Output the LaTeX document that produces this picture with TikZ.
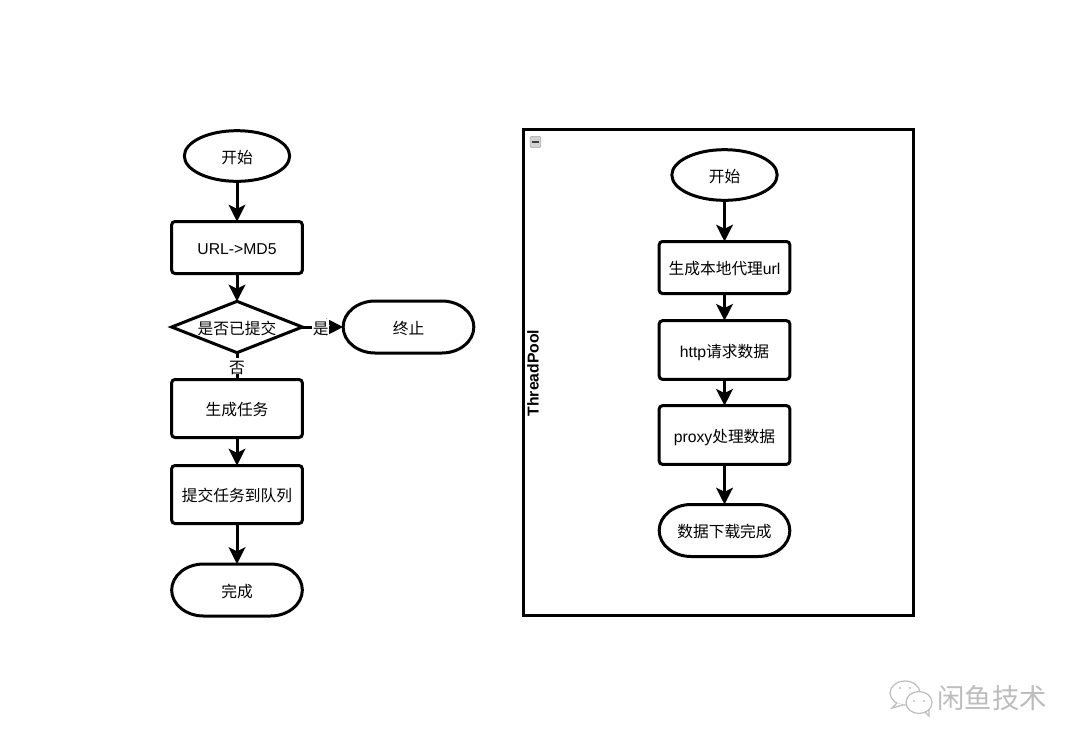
\documentclass[tikz,border=0pt]{standalone}
\usepackage{fontspec}
\setmainfont{Liberation Sans}
\newfontfamily\cjk{Noto Sans CJK SC}
\usetikzlibrary{arrows.meta,shapes.geometric}
\definecolor{wm}{gray}{0.74}
\tikzset{
  every node/.style={font=\fontsize{11.8}{13}\selectfont,inner sep=0pt,outer sep=0pt},
  labeltext/.style={text height=11.2pt,text depth=0pt},
  shapeline/.style={draw=black,line width=2.25pt,fill=white,labeltext},
  startnode/.style={shapeline,ellipse,minimum width=79pt,minimum height=38pt},
  procbox/.style={shapeline,rectangle,rounded corners=2.5pt,minimum width=98pt},
  termnode/.style={rectangle,labeltext,minimum width=98pt,minimum height=39pt},
  termline/.style={draw=black,line width=2.25pt},
  decide/.style={shapeline,diamond,aspect=2.54,minimum width=98pt,minimum height=38.5pt},
  flow/.style={draw=black,line width=2.25pt,-{Stealth[length=12.5pt,width=12.5pt,inset=3pt]}},
  plainlink/.style={draw=black,line width=2.25pt},
  edgelabel/.style={fill=white,inner sep=0.4pt,labeltext},
  bubble/.style={draw=wm,line width=0.9pt,fill=white},
  eye/.style={fill=wm,circle,minimum size=1.8pt}
}
\newcommand{\termoutline}[1]{%
  \draw[termline] ([xshift=24pt]#1.north west) -- ([xshift=-24pt]#1.north east)
    arc[start angle=90,end angle=-90,x radius=24pt,y radius=19.5pt]
    -- ([xshift=24pt]#1.south west)
    arc[start angle=270,end angle=90,x radius=24pt,y radius=19.5pt] -- cycle;}
\begin{document}
\begin{tikzpicture}[x=0.75pt,y=-0.75pt]
\useasboundingbox (0,0) rectangle (1080,747);
\fill[white] (0,0) rectangle (1080,747);

% left flow
\node[startnode] (a1) at (237,156) {\cjk 开始};
\node[procbox,minimum height=39pt] (a2) at (237,247.5) {URL->MD5};
\node[decide] (a3) at (237,327) {\cjk 是否已提交};
\node[termnode] (a4) at (408.5,327) {\cjk 终止};
\termoutline{a4}
\node[procbox,minimum height=43.5pt] (a5) at (237,408.5) {\cjk 生成任务};
\node[procbox,minimum height=43.5pt] (a6) at (237,494.5) {\cjk 提交任务到队列};
\node[termnode] (a7) at (237,590) {\cjk 完成};
\termoutline{a7}

\draw[flow] (a1) -- (a2);
\draw[flow] (a2) -- (a3);
\draw[flow] (a3) -- node[edgelabel,pos=0.45] {\cjk 是} (a4);
\draw[plainlink] (a3) -- node[edgelabel,pos=0.5] {\cjk 否} (a5);
\draw[flow] (a5) -- (a6);
\draw[flow] (a6) -- (a7);

% right pool
\node[draw=black,line width=2.25pt,rectangle,minimum width=292.5pt,minimum height=364.5pt] (pool) at (718.5,372.5) {};
\node[rotate=90,font=\fontsize{11.8}{13}\selectfont\bfseries] (plabel) at (533,373) {ThreadPool};
\node[draw=gray!70,fill=gray!35,rounded corners=1pt,minimum width=8pt,minimum height=8.5pt] (ctrl) at (535.5,142) {};
\node[fill=black!75,minimum width=5pt,minimum height=1.2pt] (ctrlbar) at (535.5,142) {};

\node[startnode] (b1) at (724.5,175) {\cjk 开始};
\node[procbox,minimum height=39pt] (b2) at (724.5,267.5) {{\cjk 生成本地代理}url};
\node[procbox,minimum height=44pt] (b3) at (724.5,350) {http{\cjk 请求数据}};
\node[procbox,minimum height=44pt] (b4) at (724.5,435) {proxy{\cjk 处理数据}};
\node[termnode] (b5) at (724.5,530.5) {\cjk 数据下载完成};
\termoutline{b5}

\draw[flow] (b1) -- (b2);
\draw[flow] (b2) -- (b3);
\draw[flow] (b3) -- (b4);
\draw[flow] (b4) -- (b5);

% watermark
\draw[bubble] (905,693) ellipse [x radius=15, y radius=12];
\fill[white,draw=wm,line width=0.9pt] (897,703) -- (892,708) -- (903,705);
\fill[white,draw=wm,line width=0.9pt] (924,711) -- (929,716) -- (929,708);
\draw[bubble] (919,702.5) ellipse [x radius=13, y radius=11];
\node[eye] (e1) at (900,688) {};
\node[eye] (e2) at (910,688) {};
\node[eye] (e3) at (914,701) {};
\node[eye] (e4) at (924,701) {};
\node[font=\fontsize{20.5}{22}\selectfont\cjk,text=wm] (wm) at (992,698) {闲鱼技术};
\end{tikzpicture}
\end{document}
